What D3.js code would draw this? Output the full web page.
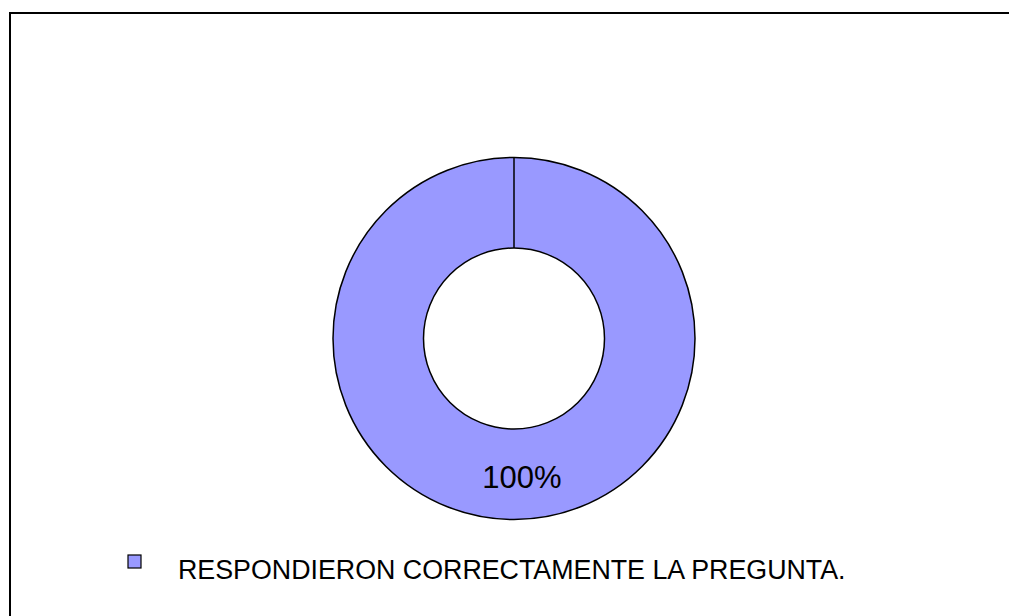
<!DOCTYPE html>
<meta charset="utf-8">
<style>
body { margin: 0; background: #fff; }
svg { display: block; font-family: Arial, "Liberation Sans", sans-serif; }
</style>
<body>
<div id="plotHere"></div>
<script src="https://cdn.jsdelivr.net/npm/d3@7"></script>
<script>
// data
var categories = ["RESPONDIERON CORRECTAMENTE LA PREGUNTA."];
var values = [100];
var colors = ["#9999ff"];

var width = 1009, height = 616;
var cx = 514, cy = 338.5,
    rOuter = 181, rInner = 90.5;

var svg = d3.select("#plotHere").append("svg")
    .attr("width", width)
    .attr("height", height);

// chart frame (runs off the right and bottom edges)
svg.append("rect")
    .attr("x", 10).attr("y", 13)
    .attr("width", 1020).attr("height", 640)
    .attr("fill", "#fff")
    .attr("stroke", "#000")
    .attr("stroke-width", 2);

var total = d3.sum(values);
var pie = d3.pie().sort(null).value(function(d) { return d; });
var arcs = pie(values);

var arc = d3.arc().innerRadius(rInner).outerRadius(rOuter);

var g = svg.append("g")
    .attr("transform", "translate(" + cx + "," + cy + ")");

g.selectAll("path.slice")
    .data(arcs)
  .enter().append("path")
    .attr("class", "slice")
    .attr("d", arc)
    .attr("fill", function(d, i) { return colors[i]; })
    .attr("stroke", "#000")
    .attr("stroke-width", 1.5);

// slice boundary lines
g.selectAll("line.edge")
    .data(arcs)
  .enter().append("line")
    .attr("class", "edge")
    .attr("x1", function(d) { return rInner * Math.sin(d.startAngle); })
    .attr("y1", function(d) { return -rInner * Math.cos(d.startAngle); })
    .attr("x2", function(d) { return rOuter * Math.sin(d.startAngle); })
    .attr("y2", function(d) { return -rOuter * Math.cos(d.startAngle); })
    .attr("stroke", "#000")
    .attr("stroke-width", 1.5);

// percentage labels
g.selectAll("text.pct")
    .data(arcs)
  .enter().append("text")
    .attr("class", "pct")
    .attr("x", function(d) { return arc.centroid(d)[0] + 8; })
    .attr("y", function(d) { return arc.centroid(d)[1] + 14; })
    .attr("text-anchor", "middle")
    .style("font-size", "31px")
    .text(function(d) { return Math.round(d.value / total * 100) + "%"; });

// legend
var legend = svg.selectAll("g.legend")
    .data(categories)
  .enter().append("g")
    .attr("class", "legend")
    .attr("transform", function(d, i) { return "translate(128," + (555 + i * 30) + ")"; });

legend.append("rect")
    .attr("width", 13).attr("height", 13)
    .attr("fill", function(d, i) { return colors[i]; })
    .attr("stroke", "#000")
    .attr("stroke-width", 1.2);

legend.append("text")
    .attr("x", 50)
    .attr("y", 24)
    .style("font-size", "26.8px")
    .text(function(d) { return d; });
</script>
</body>
